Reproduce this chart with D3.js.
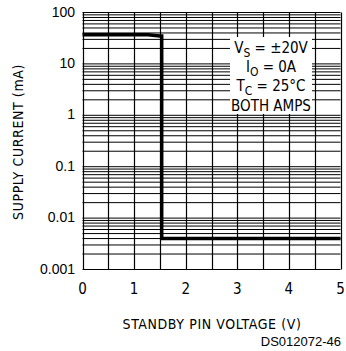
<!DOCTYPE html>
<html lang="en">
<head>
  <meta charset="UTF-8">
  <title>Supply current vs standby pin voltage</title>
  <style type="text/css">
    body { margin: 0; background: #fff; }
    .stroke-font { font-family: "DejaVu Sans Condensed", "DejaVu Sans", sans-serif; }
    .arial { font-family: "Liberation Sans", Arial, sans-serif; }
  </style>
</head>
<body>
  <svg width="346" height="351"></svg>
  <script src="https://cdn.jsdelivr.net/npm/d3@7"></script>
  <script>
    // data
    var voltage = [0, 1.27, 1.5, 1.535, 1.535, 5];
    var current = [37, 37, 35, 35, 0.004, 0.004];

    var xTicks = [0, 1, 2, 3, 4, 5];
    var yTicks = [100, 10, 1, 0.1, 0.01, 0.001];
    var yTickLabels = ["100", "10", "1", "0.1", "0.01", "0.001"];

    var svg = d3.select("svg");
    var plotL = 82.5, plotR = 340.5, plotT = 12.5, plotB = 269.5;

    var x = d3.scaleLinear().domain([0, 5]).range([plotL, plotR]);
    var y = d3.scaleLog().domain([0.001, 100]).range([plotB, plotT]);

    // grid: vertical every 0.5 V
    var vgrid = d3.range(0, 5.01, 0.5);
    svg.append("g").selectAll("line")
      .data(vgrid)
      .enter().append("line")
      .attr("x1", function (d) { return Math.round(x(d)) + 0.5; })
      .attr("x2", function (d) { return Math.round(x(d)) + 0.5; })
      .attr("y1", plotT).attr("y2", plotB)
      .attr("stroke", "#000").attr("stroke-width", 1.2);

    // grid: horizontal log lines
    var hgrid = [];
    for (var e = -3; e < 2; e++) {
      for (var m = 1; m <= 9; m++) hgrid.push(m * Math.pow(10, e));
    }
    hgrid.push(100);
    svg.append("g").selectAll("line")
      .data(hgrid)
      .enter().append("line")
      .attr("x1", plotL).attr("x2", plotR)
      .attr("y1", function (d) { return y(d); })
      .attr("y2", function (d) { return y(d); })
      .attr("stroke", "#000").attr("stroke-width", 1);

    // legend box
    var lg = svg.append("g").attr("class", "stroke-font").attr("font-size", 15).attr("text-anchor", "middle");
    lg.append("rect").attr("x", 230).attr("y", 37).attr("width", 82).attr("height", 77).attr("fill", "#fff");
    var lx = 271;
    var t1 = lg.append("text").attr("x", lx).attr("y", 53);
    t1.append("tspan").text("V");
    t1.append("tspan").attr("dy", 4).attr("font-size", 12).text("S");
    t1.append("tspan").attr("dy", -4).text(" = \u00b120V");
    var t2 = lg.append("text").attr("x", lx).attr("y", 72);
    t2.append("tspan").text("I");
    t2.append("tspan").attr("dy", 4).attr("font-size", 12).text("O");
    t2.append("tspan").attr("dy", -4).text(" = 0A");
    var t3 = lg.append("text").attr("x", lx).attr("y", 91);
    t3.append("tspan").text("T");
    t3.append("tspan").attr("dy", 4).attr("font-size", 12).text("C");
    t3.append("tspan").attr("dy", -4).text(" = 25\u00b0C");
    lg.append("text").attr("x", lx).attr("y", 111).text("BOTH AMPS");

    // curve
    var line = d3.line()
      .x(function (d, i) { return x(voltage[i]); })
      .y(function (d, i) { return y(current[i]); });
    svg.append("path")
      .datum(voltage)
      .attr("d", line)
      .attr("fill", "none")
      .attr("stroke", "#000")
      .attr("stroke-width", 3.5);

    // y tick labels
    svg.append("g").attr("class", "arial").attr("font-size", 14).attr("text-anchor", "end")
      .selectAll("text")
      .data(yTicks)
      .enter().append("text")
      .attr("x", 75)
      .attr("y", function (d) { return y(d) + 4; })
      .text(function (d, i) { return yTickLabels[i]; });

    // x tick labels
    svg.append("g").attr("class", "stroke-font").attr("font-size", 15).attr("text-anchor", "middle")
      .selectAll("text")
      .data(xTicks)
      .enter().append("text")
      .attr("x", function (d) { return x(d); })
      .attr("y", 294)
      .text(function (d) { return d; });

    // axis titles
    svg.append("text").attr("class", "stroke-font").attr("font-size", 14)
      .attr("text-anchor", "middle").attr("letter-spacing", 0.6)
      .attr("x", 212).attr("y", 329)
      .text("STANDBY PIN VOLTAGE (V)");
    svg.append("text").attr("class", "stroke-font").attr("font-size", 14)
      .attr("text-anchor", "middle").attr("letter-spacing", 0.6)
      .attr("transform", "translate(23,142) rotate(-90)")
      .text("SUPPLY CURRENT (mA)");

    svg.append("text").attr("class", "arial").attr("font-size", 13)
      .attr("text-anchor", "end")
      .attr("x", 341).attr("y", 346)
      .text("DS012072-46");
  </script>
</body>
</html>
